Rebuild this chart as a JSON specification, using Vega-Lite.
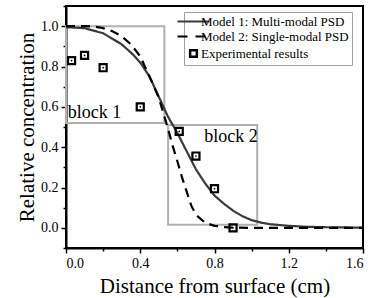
{
  "$schema": "https://vega.github.io/schema/vega-lite/v6.json",
  "autosize": {"type": "none"},
  "padding": {"left": 66, "top": 6, "right": 8, "bottom": 50},
  "width": 297,
  "height": 242,
  "background": "white",
  "config": {
    "font": "Liberation Serif",
    "view": {"stroke": "black", "strokeWidth": 2},
    "text": {"font": "Liberation Serif"},
    "legend": {"labelFont": "Liberation Serif", "titleFont": "Liberation Serif"},
    "axis": {"labelFont": "Liberation Serif", "titleFont": "Liberation Serif", "labelColor": "black", "titleColor": "black", "domainColor": "black", "domainWidth": 2, "tickColor": "black", "tickWidth": 1.5, "grid": false, "titleFontWeight": "normal", "labelFontSize": 14, "titleFontSize": 21, "labelOverlap": false}
  },
  "resolve": {"axis": {"x": "independent", "y": "independent"}},
  "datasets": {
    "model": [
      {"series": "Model 1: Multi-modal PSD", "x": 0, "y": 0.995},
      {"series": "Model 1: Multi-modal PSD", "x": 0.1, "y": 0.99},
      {"series": "Model 1: Multi-modal PSD", "x": 0.2, "y": 0.965},
      {"series": "Model 1: Multi-modal PSD", "x": 0.3, "y": 0.91},
      {"series": "Model 1: Multi-modal PSD", "x": 0.36, "y": 0.86},
      {"series": "Model 1: Multi-modal PSD", "x": 0.4, "y": 0.82},
      {"series": "Model 1: Multi-modal PSD", "x": 0.45, "y": 0.75},
      {"series": "Model 1: Multi-modal PSD", "x": 0.5, "y": 0.65},
      {"series": "Model 1: Multi-modal PSD", "x": 0.55, "y": 0.55},
      {"series": "Model 1: Multi-modal PSD", "x": 0.6, "y": 0.47},
      {"series": "Model 1: Multi-modal PSD", "x": 0.65, "y": 0.38},
      {"series": "Model 1: Multi-modal PSD", "x": 0.7, "y": 0.29},
      {"series": "Model 1: Multi-modal PSD", "x": 0.75, "y": 0.22},
      {"series": "Model 1: Multi-modal PSD", "x": 0.8, "y": 0.16},
      {"series": "Model 1: Multi-modal PSD", "x": 0.85, "y": 0.12},
      {"series": "Model 1: Multi-modal PSD", "x": 0.9, "y": 0.085},
      {"series": "Model 1: Multi-modal PSD", "x": 0.95, "y": 0.058},
      {"series": "Model 1: Multi-modal PSD", "x": 1.0, "y": 0.038},
      {"series": "Model 1: Multi-modal PSD", "x": 1.05, "y": 0.026},
      {"series": "Model 1: Multi-modal PSD", "x": 1.1, "y": 0.018},
      {"series": "Model 1: Multi-modal PSD", "x": 1.2, "y": 0.01},
      {"series": "Model 1: Multi-modal PSD", "x": 1.3, "y": 0.005},
      {"series": "Model 1: Multi-modal PSD", "x": 1.4, "y": 0.003},
      {"series": "Model 1: Multi-modal PSD", "x": 1.6, "y": 0.001},
      {"series": "Model 2: Single-modal PSD", "x": 0, "y": 1.0},
      {"series": "Model 2: Single-modal PSD", "x": 0.1, "y": 1.0},
      {"series": "Model 2: Single-modal PSD", "x": 0.15, "y": 0.998},
      {"series": "Model 2: Single-modal PSD", "x": 0.2, "y": 0.99},
      {"series": "Model 2: Single-modal PSD", "x": 0.25, "y": 0.975},
      {"series": "Model 2: Single-modal PSD", "x": 0.3, "y": 0.95},
      {"series": "Model 2: Single-modal PSD", "x": 0.35, "y": 0.91},
      {"series": "Model 2: Single-modal PSD", "x": 0.4, "y": 0.85},
      {"series": "Model 2: Single-modal PSD", "x": 0.45, "y": 0.75},
      {"series": "Model 2: Single-modal PSD", "x": 0.5, "y": 0.645},
      {"series": "Model 2: Single-modal PSD", "x": 0.55, "y": 0.49},
      {"series": "Model 2: Single-modal PSD", "x": 0.575, "y": 0.405},
      {"series": "Model 2: Single-modal PSD", "x": 0.6, "y": 0.33},
      {"series": "Model 2: Single-modal PSD", "x": 0.625, "y": 0.25},
      {"series": "Model 2: Single-modal PSD", "x": 0.65, "y": 0.18},
      {"series": "Model 2: Single-modal PSD", "x": 0.675, "y": 0.11},
      {"series": "Model 2: Single-modal PSD", "x": 0.7, "y": 0.065},
      {"series": "Model 2: Single-modal PSD", "x": 0.75, "y": 0.025},
      {"series": "Model 2: Single-modal PSD", "x": 0.8, "y": 0.01},
      {"series": "Model 2: Single-modal PSD", "x": 0.85, "y": 0.004},
      {"series": "Model 2: Single-modal PSD", "x": 0.9, "y": 0.001},
      {"series": "Model 2: Single-modal PSD", "x": 1.0, "y": 0},
      {"series": "Model 2: Single-modal PSD", "x": 1.6, "y": 0}
    ],
    "exp": [
      {"series": "Experimental results", "x": 0.03, "y": 0.829},
      {"series": "Experimental results", "x": 0.1, "y": 0.855},
      {"series": "Experimental results", "x": 0.2, "y": 0.794},
      {"series": "Experimental results", "x": 0.4, "y": 0.6},
      {"series": "Experimental results", "x": 0.61, "y": 0.478},
      {"series": "Experimental results", "x": 0.7, "y": 0.356},
      {"series": "Experimental results", "x": 0.8, "y": 0.194},
      {"series": "Experimental results", "x": 0.9, "y": 0.0}
    ],
    "blocks": [
      {"label": "block 1", "x": 0, "x2": 0.53, "y": 0.52, "y2": 1.0, "tx": 0.01, "ty": 0.567},
      {"label": "block 2", "x": 0.55, "x2": 1.03, "y": 0.015, "y2": 0.51, "tx": 0.745, "ty": 0.448}
    ]
  },
  "layer": [
    {
      "data": {"name": "blocks"},
      "mark": {"type": "rect", "fill": null, "fillOpacity": 0, "stroke": "#b0b0b0", "strokeWidth": 2},
      "encoding": {
        "x": {"field": "x", "type": "quantitative", "scale": {"domain": [0, 1.6], "nice": false, "zero": false},
          "axis": {"title": "Distance from surface (cm)", "orient": "bottom", "values": [0, 0.4, 0.8, 1.2, 1.6], "format": ".1f",
            "tickSize": 5, "labelPadding": 3, "titlePadding": 5}},
        "x2": {"field": "x2"},
        "y": {"field": "y", "type": "quantitative", "scale": {"domain": [-0.1, 1.1], "nice": false, "zero": false},
          "axis": {"title": "Relative concentration", "orient": "left", "values": [0, 0.2, 0.4, 0.6, 0.8, 1.0], "format": ".1f",
            "tickSize": 5, "labelPadding": 3, "titlePadding": 3}},
        "y2": {"field": "y2"}
      }
    },
    {
      "data": {"name": "blocks"},
      "mark": {"type": "text", "align": "left", "baseline": "middle", "fontSize": 18, "font": "Liberation Serif", "color": "black"},
      "encoding": {
        "x": {"field": "tx", "type": "quantitative", "axis": null},
        "y": {"field": "ty", "type": "quantitative", "axis": null},
        "text": {"field": "label"}
      }
    },
    {
      "data": {"name": "model"},
      "mark": {"type": "line", "strokeWidth": 2.2},
      "encoding": {
        "x": {"field": "x", "type": "quantitative", "axis": null},
        "y": {"field": "y", "type": "quantitative", "axis": null},
        "color": {"field": "series", "type": "nominal",
          "scale": {"domain": ["Model 1: Multi-modal PSD", "Model 2: Single-modal PSD", "Experimental results"], "range": ["#3a3a3a", "#000000", "#000000"]},
          "legend": {"title": null, "orient": "none", "legendX": 118, "legendY": 6,
            "strokeColor": "#a0a0a0", "fillColor": "white", "padding": 3, "rowPadding": 1,
            "labelFont": "Liberation Serif", "labelFontSize": 13, "labelColor": "black", "labelOffset": 1,
            "symbolStrokeWidth": 2.2, "symbolSize": 1024,
            "encode": {"symbols": {"update": {
              "shape": {"signal": "datum.value === 'Experimental results' ? 'square' : 'stroke'"},
              "size": {"signal": "datum.value === 'Experimental results' ? 45 : 1024"},
              "strokeDash": {"signal": "datum.value === 'Model 2: Single-modal PSD' ? [10, 8] : [1, 0]"},
              "strokeWidth": {"signal": "datum.value === 'Experimental results' ? 2.5 : 2.2"},
              "fill": {"value": "transparent"},
              "stroke": {"signal": "datum.value === 'Model 1: Multi-modal PSD' ? '#3a3a3a' : '#000000'"}
            }}}}},
        "strokeDash": {"field": "series", "type": "nominal",
          "scale": {"domain": ["Model 1: Multi-modal PSD", "Model 2: Single-modal PSD"], "range": [[1, 0], [9, 6]]},
          "legend": null}
      }
    },
    {
      "data": {"name": "exp"},
      "mark": {"type": "point", "shape": "square", "filled": false, "size": 50, "strokeWidth": 2.2, "opacity": 1},
      "encoding": {
        "x": {"field": "x", "type": "quantitative", "axis": null},
        "y": {"field": "y", "type": "quantitative", "axis": null},
        "color": {"field": "series", "type": "nominal"}
      }
    },
    {
      "data": {"name": "exp"},
      "mark": {"type": "point", "shape": "circle", "filled": true, "size": 3, "color": "black", "opacity": 1},
      "encoding": {
        "x": {"field": "x", "type": "quantitative",
          "axis": {"orient": "bottom", "values": [0.2, 0.6, 1.0, 1.4], "labels": false, "domain": false, "title": null, "tickSize": 3}},
        "y": {"field": "y", "type": "quantitative",
          "axis": {"orient": "left", "values": [-0.1, 0.1, 0.3, 0.5, 0.7, 0.9, 1.1], "labels": false, "domain": false, "title": null, "tickSize": 3}}
      }
    }
  ]
}
